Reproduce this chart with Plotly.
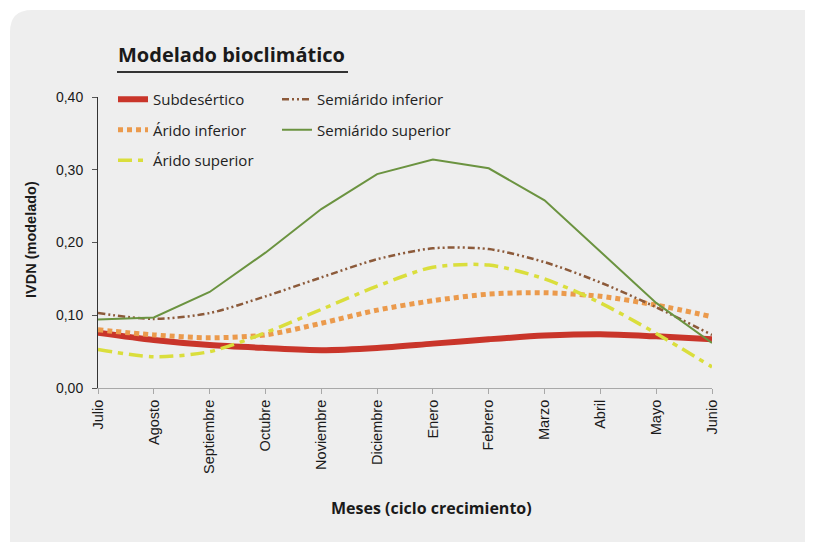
import plotly.graph_objects as go

months = ["Julio", "Agosto", "Septiembre", "Octubre", "Noviembre", "Diciembre",
          "Enero", "Febrero", "Marzo", "Abril", "Mayo", "Junio"]
subdesertico = [0.076, 0.066, 0.059, 0.055, 0.052, 0.055, 0.061, 0.067, 0.072, 0.074, 0.071, 0.067]
arido_inferior = [0.080, 0.073, 0.069, 0.073, 0.089, 0.107, 0.120, 0.129, 0.131, 0.126, 0.114, 0.098]
arido_superior = [0.053, 0.043, 0.050, 0.076, 0.108, 0.140, 0.166, 0.169, 0.150, 0.117, 0.075, 0.029]
semiarido_inferior = [0.103, 0.095, 0.103, 0.126, 0.152, 0.177, 0.192, 0.191, 0.173, 0.145, 0.111, 0.073]
semiarido_superior = [0.094, 0.097, 0.132, 0.186, 0.246, 0.294, 0.314, 0.302, 0.258, 0.188, 0.117, 0.062]
y_ticks = [0.0, 0.1, 0.2, 0.3, 0.4]

x = list(range(len(months)))

# page body has an 8px margin; work in screen coordinates and compensate
OFF = 8
SW, SH = 813, 542
PL, PR, PT, PB = 98, 712, 97, 388   # plot area in screen pixels
W, H = SW - OFF, SH - OFF
ML, MT = PL - OFF, PT - OFF
MR, MB = W - (PR - OFF), H - (PB - OFF)
PW, PH = PR - PL, PB - PT


def px(xp):
    return (xp - PL) / PW


def py(yp):
    return (PB - yp) / PH


fig = go.Figure()

fig.add_trace(go.Scatter(x=x, y=subdesertico, name="Subdesértico", mode="lines",
                         line=dict(color="#c9352a", width=6, shape="spline", smoothing=0.8),
                         legend="legend", legendgroup="a"))
fig.add_trace(go.Scatter(x=x, y=arido_inferior, name="Árido inferior", mode="lines",
                         line=dict(color="#eb9a4c", width=5, dash="5px,4px", shape="spline", smoothing=0.8),
                         legend="legend", legendgroup="b"))
fig.add_trace(go.Scatter(x=x, y=arido_superior, name="Árido superior", mode="lines",
                         line=dict(color="#dade3c", width=3.5, dash="14px,6px,5px,6px", shape="spline", smoothing=0.8),
                         legend="legend", legendgroup="c"))
fig.add_trace(go.Scatter(x=x, y=semiarido_inferior, name="Semiárido inferior", mode="lines",
                         line=dict(color="#8c5a3a", width=2.5, dash="7px,3px,2px,3px,2px,3px", shape="spline", smoothing=0.8),
                         legend="legend2", legendgroup="d"))
fig.add_trace(go.Scatter(x=x, y=semiarido_superior, name="Semiárido superior", mode="lines",
                         line=dict(color="#6b9340", width=2),
                         legend="legend2", legendgroup="e"))

# rounded background panel
x0, x1, y0, y1, r = 10, 840, 10, 570, 22
path = (f"M {px(x0 + r)},{py(y0)} L {px(x1 - r)},{py(y0)} "
        f"Q {px(x1)},{py(y0)} {px(x1)},{py(y0 + r)} L {px(x1)},{py(y1 - r)} "
        f"Q {px(x1)},{py(y1)} {px(x1 - r)},{py(y1)} L {px(x0 + r)},{py(y1)} "
        f"Q {px(x0)},{py(y1)} {px(x0)},{py(y1 - r)} L {px(x0)},{py(y0 + r)} "
        f"Q {px(x0)},{py(y0)} {px(x0 + r)},{py(y0)} Z")
fig.add_shape(type="path", path=path, xref="paper", yref="paper",
              fillcolor="#eeeeee", line=dict(width=0), layer="below")

# title underline
fig.add_shape(type="line", xref="paper", yref="paper", x0=px(117), x1=px(348), y0=py(72), y1=py(72),
              line=dict(color="#333333", width=2))

fig.add_annotation(text="<b>Modelado bioclimático</b>", xref="paper", yref="paper",
                   x=px(116), y=py(54), xanchor="left", yanchor="middle", showarrow=False,
                   font=dict(family="Open Sans", size=20, color="#1a1a1a"))
fig.add_annotation(text="<b>Meses (ciclo crecimiento)</b>", xref="paper", yref="paper",
                   x=px(431), y=py(508), xanchor="center", yanchor="middle", showarrow=False,
                   font=dict(family="Open Sans", size=16, color="#1a1a1a"))
fig.add_annotation(text="<b>IVDN (modelado)</b>", xref="paper", yref="paper",
                   x=px(31), y=py(240), xanchor="center", yanchor="middle", showarrow=False,
                   textangle=-90, font=dict(family="Liberation Sans", size=14.5, color="#1a1a1a"))

legend_common = dict(bgcolor="rgba(0,0,0,0)", borderwidth=0, orientation="v",
                     font=dict(family="Open Sans", size=15, color="#222222"),
                     tracegroupgap=8, yanchor="top", xanchor="left", itemwidth=30)

fig.update_layout(
    width=W, height=H,
    margin=dict(l=ML, r=MR, t=MT, b=MB),
    paper_bgcolor="#ffffff",
    plot_bgcolor="rgba(0,0,0,0)",
    separators=", ",
    showlegend=True,
    legend=dict(x=px(113), y=py(83), **legend_common),
    legend2=dict(x=px(277), y=py(83), **legend_common),
    xaxis=dict(range=[0, 11], tickmode="array", tickvals=x, ticktext=months,
               tickangle=-90, showgrid=False, zeroline=False,
               showline=True, linecolor="#a8a8a8", linewidth=1,
               ticks="outside", ticklen=5, tickcolor="#a8a8a8",
               tickfont=dict(family="Liberation Sans", size=14.5, color="#1a1a1a")),
    yaxis=dict(range=[0, 0.4], tickmode="array", tickvals=y_ticks, tickformat=".2f",
               showgrid=False, zeroline=False,
               showline=True, linecolor="#333333", linewidth=1,
               ticks="outside", ticklen=5, tickcolor="#555555", ticklabelstandoff=6,
               tickfont=dict(family="Liberation Sans", size=14, color="#1a1a1a")),
)

fig.write_html("out.html")
